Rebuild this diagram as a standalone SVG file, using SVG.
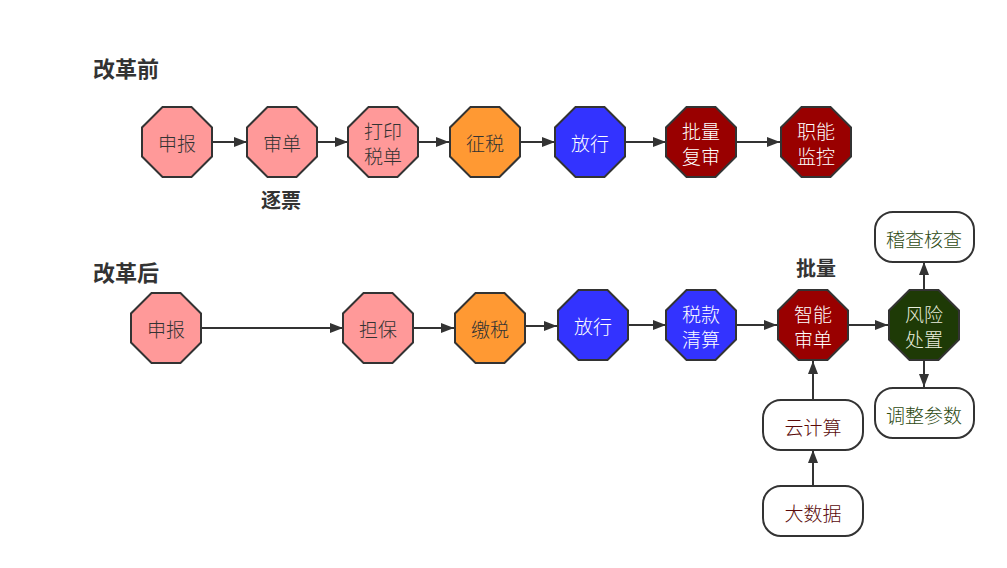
<svg xmlns="http://www.w3.org/2000/svg" xmlns:xlink="http://www.w3.org/1999/xlink" width="1007" height="568" viewBox="0 0 1007 568">
<style>
text{font-family:"Noto Sans CJK SC","Microsoft YaHei",sans-serif;text-anchor:middle;dominant-baseline:central}
.t{font-size:19px;font-weight:300}
.h{font-size:22px;font-weight:bold;fill:#333;text-anchor:start}
.hb{font-size:20px;font-weight:bold;fill:#333}
.oct{stroke:#333;stroke-width:2}
.pink{fill:#FF9999}
.orange{fill:#FF9933}
.blue{fill:#3333FF}
.red{fill:#990000}
.green{fill:#1E3A06}
.dk{fill:#333}
.wt{fill:#fff}
.gt{fill:#e8eedd}
.box{fill:#fff;stroke:#333;stroke-width:2}
.edge{stroke:#333;stroke-width:2;fill:none;marker-end:url(#arr)}
</style>
<defs>
<polygon id="oct" points="-14.5,-35 14.5,-35 35,-14.5 35,14.5 14.5,35 -14.5,35 -35,14.5 -35,-14.5"/>
<marker id="arr" viewBox="0 0 13 10" refX="13" refY="5" markerWidth="13" markerHeight="10" markerUnits="userSpaceOnUse" orient="auto">
<path d="M0,0 L13,5 L0,10 z" fill="#333"/>
</marker>
</defs>
<rect width="1007" height="568" fill="#fff"/>

<text class="h" x="93" y="67">改革前</text>
<text class="h" x="93" y="271">改革后</text>
<text class="hb" x="281" y="199">逐票</text>
<text class="hb" x="816" y="267">批量</text>

<g id="connectors">
<line class="edge" x1="212" y1="142" x2="247" y2="142"/>
<line class="edge" x1="318" y1="142" x2="348" y2="142"/>
<line class="edge" x1="418" y1="142" x2="449" y2="142"/>
<line class="edge" x1="521" y1="142" x2="555" y2="142"/>
<line class="edge" x1="626" y1="142" x2="666" y2="142"/>
<line class="edge" x1="737" y1="142" x2="780" y2="142"/>

<line class="edge" x1="201" y1="328" x2="343" y2="328"/>
<line class="edge" x1="413" y1="328" x2="454" y2="328"/>
<line class="edge" x1="525" y1="326" x2="557" y2="326"/>
<line class="edge" x1="628" y1="325" x2="666" y2="325"/>
<line class="edge" x1="737" y1="325" x2="777" y2="325"/>
<line class="edge" x1="849" y1="325" x2="888" y2="325"/>
<line class="edge" x1="924" y1="289" x2="924" y2="262"/>
<line class="edge" x1="924" y1="361" x2="924" y2="387"/>
<line class="edge" x1="813" y1="399" x2="813" y2="361"/>
<line class="edge" x1="813" y1="486" x2="813" y2="450"/>
</g>

<g id="n1"><use href="#oct" x="177" y="142" class="oct pink"/><text class="t dk" x="177" y="142">申报</text></g>
<g id="n2"><use href="#oct" x="282" y="142" class="oct pink"/><text class="t dk" x="282" y="142">审单</text></g>
<g id="n3"><use href="#oct" x="383" y="142" class="oct pink"/><text class="t dk" x="383" y="130">打印</text><text class="t dk" x="383" y="155">税单</text></g>
<g id="n4"><use href="#oct" x="485" y="142" class="oct orange"/><text class="t dk" x="485" y="142">征税</text></g>
<g id="n5"><use href="#oct" x="590" y="142" class="oct blue"/><text class="t wt" x="590" y="142">放行</text></g>
<g id="n6"><use href="#oct" x="701" y="142" class="oct red"/><text class="t wt" x="701" y="130">批量</text><text class="t wt" x="701" y="155">复审</text></g>
<g id="n7"><use href="#oct" x="816" y="142" class="oct red"/><text class="t wt" x="816" y="130">职能</text><text class="t wt" x="816" y="155">监控</text></g>

<g id="m1"><use href="#oct" x="166" y="328" class="oct pink"/><text class="t dk" x="166" y="328">申报</text></g>
<g id="m2"><use href="#oct" x="378" y="328" class="oct pink"/><text class="t dk" x="378" y="328">担保</text></g>
<g id="m3"><use href="#oct" x="490" y="328" class="oct orange"/><text class="t dk" x="490" y="328">缴税</text></g>
<g id="m4"><use href="#oct" x="593" y="325" class="oct blue"/><text class="t wt" x="593" y="325">放行</text></g>
<g id="m5"><use href="#oct" x="701" y="325" class="oct blue"/><text class="t wt" x="701" y="313">税款</text><text class="t wt" x="701" y="338">清算</text></g>
<g id="m6"><use href="#oct" x="813" y="325" class="oct red"/><text class="t wt" x="813" y="313">智能</text><text class="t wt" x="813" y="338">审单</text></g>
<g id="m7"><use href="#oct" x="924" y="325" class="oct green"/><text class="t gt" x="924" y="313">风险</text><text class="t gt" x="924" y="338">处置</text></g>

<g id="b1"><rect class="box" x="875" y="212" width="99" height="50" rx="18"/><text class="t" x="924" y="238" fill="#2d4a12">稽查核查</text></g>
<g id="b2"><rect class="box" x="875" y="388" width="99" height="50" rx="18"/><text class="t" x="924" y="414" fill="#2d4a12">调整参数</text></g>
<g id="b3"><rect class="box" x="763" y="400" width="100" height="50" rx="18"/><text class="t" x="813" y="426" fill="#5a0a0a">云计算</text></g>
<g id="b4"><rect class="box" x="763" y="486" width="100" height="50" rx="18"/><text class="t" x="813" y="512" fill="#5a0a0a">大数据</text></g>
</svg>
